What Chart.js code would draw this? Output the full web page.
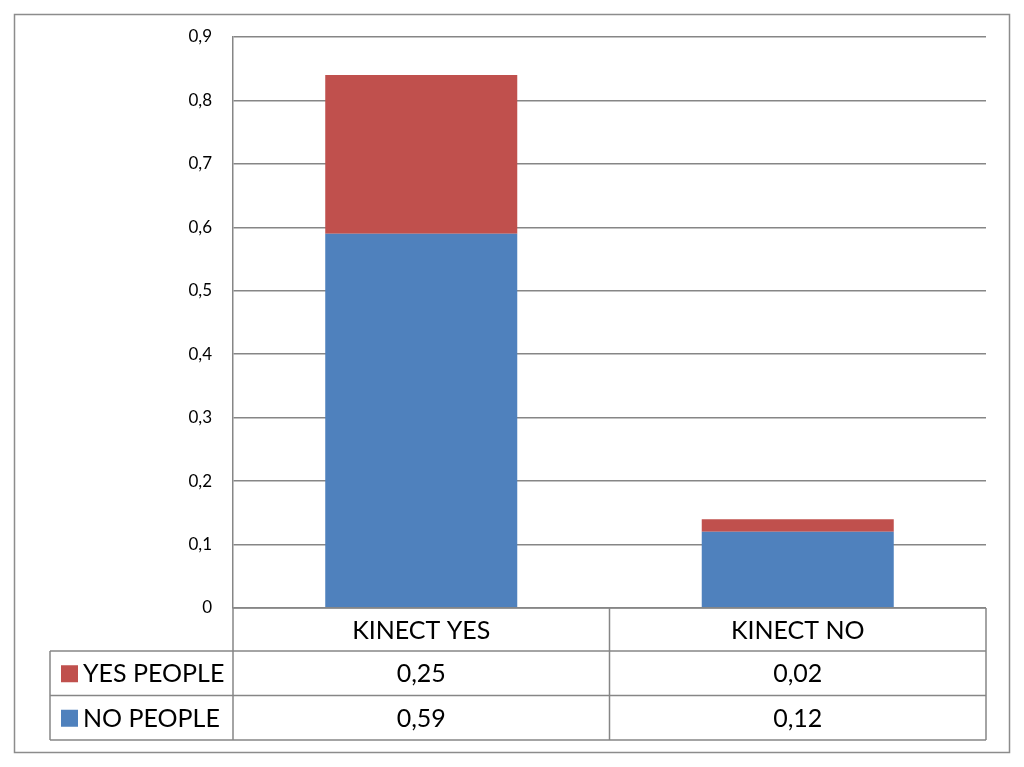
<!DOCTYPE html>
<html>
<head>
<meta charset="utf-8">
<script src="https://cdn.jsdelivr.net/npm/chart.js@4/dist/chart.umd.min.js"></script>
<style>
  html, body { margin: 0; padding: 0; background: #ffffff; }
  canvas { display: block; }
</style>
</head>
<body>
<canvas id="c" width="1024" height="767"></canvas>
<script>
const categories = ['KINECT YES', 'KINECT NO'];
const noPeople = [0.59, 0.12];
const yesPeople = [0.25, 0.02];
const seriesNames = ['NO PEOPLE', 'YES PEOPLE'];
const seriesColors = ['#4F81BD', '#C0504D'];
const yMin = 0, yMax = 0.9, yStep = 0.1;

const FONT = 'Lato, "Liberation Sans", sans-serif';
const LINE = '#868686';

function fmt(v, d) { return v === 0 ? '0' : v.toFixed(d).replace('.', ','); }

const framePlugin = {
  id: 'frame',
  beforeDraw(chart) {
    const ctx = chart.ctx;
    ctx.save();
    ctx.fillStyle = '#ffffff';
    ctx.fillRect(0, 0, chart.width, chart.height);
    ctx.strokeStyle = '#8c8c8c';
    ctx.lineWidth = 1.5;
    ctx.strokeRect(14.5, 14.5, 995, 738);
    ctx.restore();
  }
};

const tablePlugin = {
  id: 'dataTable',
  afterDraw(chart) {
    const ctx = chart.ctx;
    const x = chart.scales.x;
    const area = chart.chartArea;
    const top = area.bottom;
    const headerH = 43, rowH = 44.5;
    const tableLeft = 50;
    const n = categories.length;
    const centers = categories.map((_, i) => x.getPixelForValue(i));
    const bounds = [area.left];
    for (let i = 0; i < n - 1; i++) bounds.push((centers[i] + centers[i + 1]) / 2);
    bounds.push(area.right);
    const rowsTop = top + headerH;
    const bottom = rowsTop + rowH * 2;

    ctx.save();
    ctx.strokeStyle = LINE;
    ctx.lineWidth = 1.5;
    ctx.beginPath();
    ctx.moveTo(area.left, top); ctx.lineTo(area.right, top);
    for (let r = 0; r <= 2; r++) {
      const y = rowsTop + r * rowH;
      ctx.moveTo(tableLeft, y); ctx.lineTo(area.right, y);
    }
    bounds.forEach(b => { ctx.moveTo(b, top); ctx.lineTo(b, bottom); });
    ctx.moveTo(tableLeft, rowsTop); ctx.lineTo(tableLeft, bottom);
    ctx.stroke();

    ctx.fillStyle = '#000000';
    ctx.font = '25px ' + FONT;
    ctx.textAlign = 'center';
    ctx.textBaseline = 'middle';
    categories.forEach((c, i) => ctx.fillText(c, centers[i], top + headerH / 2 + 1));

    const rows = chart.data.datasets.slice().reverse();
    rows.forEach((ds, r) => {
      const yMid = rowsTop + r * rowH + rowH / 2 + 1;
      ctx.fillStyle = ds.backgroundColor;
      ctx.fillRect(61, yMid - 9, 17, 17);
      ctx.fillStyle = '#000000';
      ctx.textAlign = 'left';
      ctx.fillText(ds.label, 83, yMid);
      ctx.textAlign = 'center';
      ds.data.forEach((v, i) => ctx.fillText(fmt(v, 2), centers[i], yMid));
    });
    ctx.restore();
  }
};

new Chart(document.getElementById('c'), {
  type: 'bar',
  data: {
    labels: categories,
    datasets: [
      { label: seriesNames[0], data: noPeople, backgroundColor: seriesColors[0], borderWidth: 0 },
      { label: seriesNames[1], data: yesPeople, backgroundColor: seriesColors[1], borderWidth: 0 }
    ]
  },
  options: {
    responsive: false,
    animation: false,
    devicePixelRatio: 1,
    layout: { padding: { left: 0, top: 37, right: 38, bottom: 159 } },
    categoryPercentage: 1,
    barPercentage: 0.51,
    plugins: { legend: { display: false }, tooltip: { enabled: false } },
    scales: {
      x: {
        stacked: true,
        display: false
      },
      y: {
        stacked: true,
        min: yMin,
        max: yMax,
        afterFit(scale) { scale.width = 233; },
        ticks: {
          stepSize: yStep,
          padding: 21,
          color: '#000000',
          font: { family: FONT, size: 17 },
          callback: v => fmt(v, 1)
        },
        grid: { color: LINE, lineWidth: 1.5, drawTicks: false },
        border: { color: LINE, width: 1.5 }
      }
    }
  },
  plugins: [framePlugin, tablePlugin]
});
</script>
</body>
</html>
